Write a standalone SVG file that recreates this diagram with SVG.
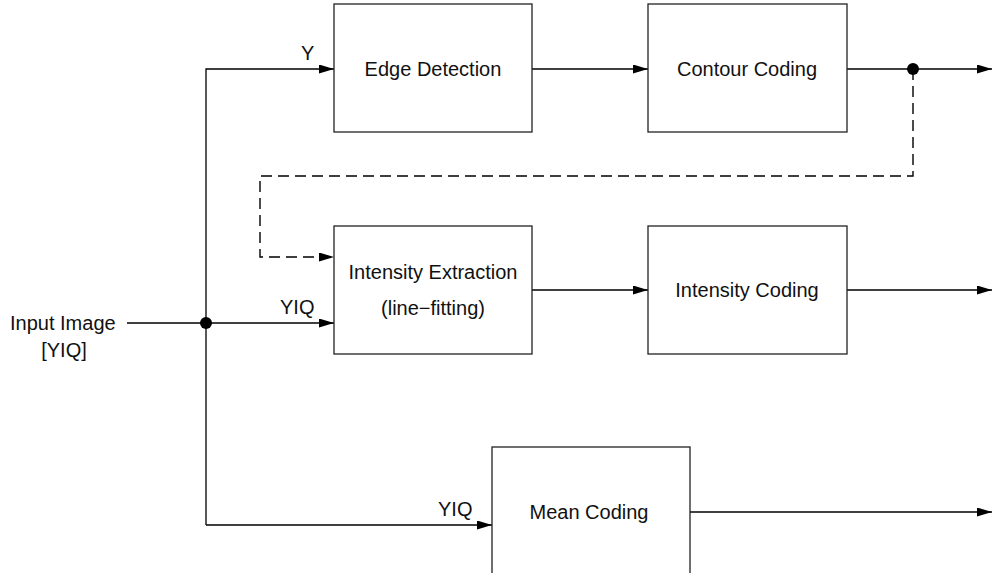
<svg xmlns="http://www.w3.org/2000/svg" width="992" height="573" viewBox="0 0 992 573">
<style>
.box{fill:#fff;stroke:#222;stroke-width:1.3}
.ln{fill:none;stroke:#000;stroke-width:1.3}
.dash{fill:none;stroke:#000;stroke-width:1.4;stroke-dasharray:11,6}
text{font-family:"Liberation Sans",Arial,sans-serif;font-size:20px;fill:#111}
.c{text-anchor:middle}
</style>
<defs>
<marker id="ar" markerUnits="userSpaceOnUse" markerWidth="15" markerHeight="9" refX="15" refY="4.5" orient="auto">
<path d="M0,0 L15,4.5 L0,9 z" fill="#000"/>
</marker>
</defs>
<rect width="992" height="573" fill="#fff"/>
<g id="connectors">
<path class="ln" d="M127,323 H206"/>
<path class="ln" d="M206,525 V69 H334" marker-end="url(#ar)"/>
<path class="ln" d="M206,323 H334" marker-end="url(#ar)"/>
<path class="ln" d="M206,525 H492" marker-end="url(#ar)"/>
<path class="ln" d="M532,69 H648" marker-end="url(#ar)"/>
<path class="ln" d="M847,69 H992" marker-end="url(#ar)"/>
<path class="dash" d="M913,69 V176 H260 V257 H334" marker-end="url(#ar)"/>
<path class="ln" d="M532,290 H648" marker-end="url(#ar)"/>
<path class="ln" d="M847,290 H992" marker-end="url(#ar)"/>
<path class="ln" d="M690,512 H992" marker-end="url(#ar)"/>
<circle cx="206" cy="323" r="6" fill="#000"/>
<circle cx="913" cy="69" r="6" fill="#000"/>
<text x="301" y="60">Y</text>
<text x="280" y="314">YIQ</text>
<text x="438" y="516">YIQ</text>
</g>
<g id="input">
<text x="10" y="330">Input Image</text>
<text x="64" y="357" class="c">[YIQ]</text>
</g>
<g id="edge">
<rect class="box" x="334" y="4" width="198" height="128"/>
<text x="433" y="76" class="c">Edge Detection</text>
</g>
<g id="contour">
<rect class="box" x="648" y="4" width="199" height="128"/>
<text x="747" y="76" class="c">Contour Coding</text>
</g>
<g id="extraction">
<rect class="box" x="334" y="226" width="198" height="128"/>
<text x="433" y="279" class="c">Intensity Extraction</text>
<text x="433" y="315" class="c">(line−fitting)</text>
</g>
<g id="intensity">
<rect class="box" x="648" y="226" width="199" height="128"/>
<text x="747" y="297" class="c">Intensity Coding</text>
</g>
<g id="mean">
<rect class="box" x="492" y="447" width="198" height="128"/>
<text x="589" y="519" class="c">Mean Coding</text>
</g>
</svg>
